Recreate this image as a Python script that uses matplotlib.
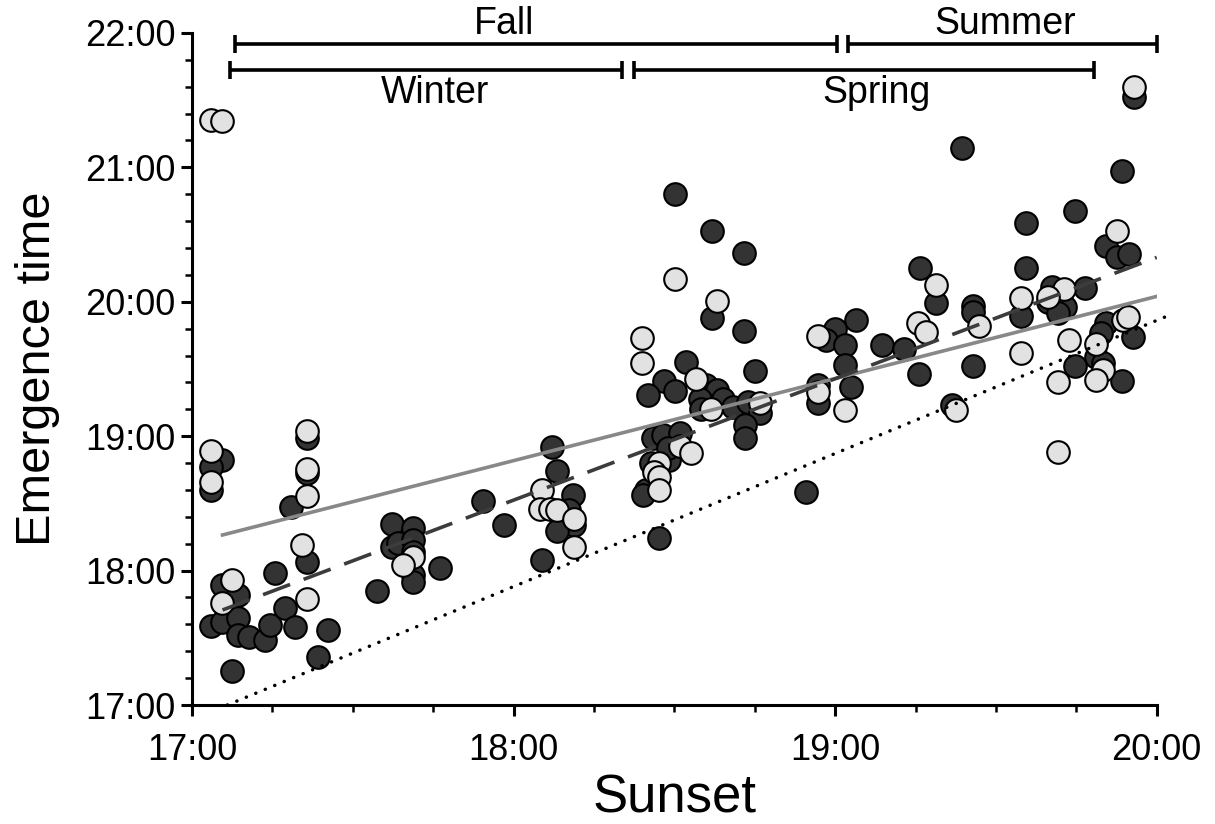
import matplotlib
matplotlib.use('Agg')
import matplotlib.pyplot as plt
from matplotlib.ticker import FuncFormatter, MultipleLocator

plt.rcParams['font.family'] = ['Liberation Sans', 'DejaVu Sans']

# sunset (x) and emergence (y), decimal hours
dark_x = [17.092, 17.059, 17.059,
          17.092, 17.143, 17.059, 17.092, 17.143, 17.143, 17.177, 17.227, 17.242,
          17.123, 17.258, 17.289, 17.320, 17.422, 17.391, 17.308,
          17.357, 17.357, 17.357,
          17.622, 17.622, 17.640, 17.687, 17.687, 17.687, 17.687, 17.687, 17.574, 17.771,
          17.905, 17.970, 18.119, 18.135, 18.184, 18.172, 18.187, 18.135, 18.087,
          18.501, 18.617, 18.717, 18.617, 18.717, 18.536, 18.750, 18.468, 18.501, 18.418,
          18.600, 18.632, 18.579, 18.584, 18.652, 18.681, 18.729, 18.766, 18.719, 18.719,
          18.434, 18.465, 18.517, 18.484, 18.429, 18.413, 18.402, 18.480, 18.453,
          18.910, 19.064, 18.999, 18.971, 19.030, 19.030, 19.147, 19.213, 19.261,
          18.947, 18.947, 19.048, 19.263, 19.313, 19.429, 19.429, 19.429, 19.362, 19.396,
          19.595, 19.595, 19.579, 19.675, 19.662, 19.714, 19.693, 19.776, 19.843, 19.828,
          19.926, 19.812, 19.833, 19.893, 19.745, 19.745, 19.893, 19.843, 19.878, 19.914,
          19.928]
dark_y = [18.823, 18.773, 18.600,
          17.893, 17.818, 17.588, 17.620, 17.647, 17.521, 17.506, 17.484, 17.595,
          17.255, 17.984, 17.724, 17.580, 17.558, 17.359, 18.473,
          18.987, 18.726, 18.064,
          18.347, 18.178, 18.205, 18.317, 18.228, 18.138, 17.967, 17.917, 17.850, 18.022,
          18.520, 18.339, 18.920, 18.741, 18.563, 18.451, 18.339, 18.297, 18.079,
          20.802, 20.528, 20.365, 19.879, 19.783, 19.552, 19.485, 19.413, 19.336, 19.307,
          19.381, 19.344, 19.275, 19.200, 19.280, 19.219, 19.257, 19.170, 19.083, 18.984,
          18.984, 19.009, 19.022, 18.823, 18.798, 18.600, 18.563, 18.912, 18.243,
          18.585, 19.865, 19.795, 19.716, 19.679, 19.530, 19.679, 19.647, 19.461,
          19.381, 19.249, 19.368, 20.254, 19.991, 19.971, 19.926, 19.522, 19.232, 21.142,
          20.584, 20.254, 19.894, 20.112, 20.001, 19.964, 19.914, 20.100, 19.840, 19.766,
          19.740, 19.587, 19.542, 19.413, 19.522, 20.678, 20.975, 20.418, 20.336, 20.353,
          21.526]

light_x = [17.059, 17.092, 17.059, 17.059,
           17.123, 17.092,
           17.357, 17.357, 17.357, 17.341, 17.357,
           17.687, 17.656,
           18.087, 18.082, 18.113, 18.135, 18.187, 18.187,
           18.501, 18.634, 18.401, 18.401, 18.567, 18.615, 18.766,
           18.517, 18.552, 18.453, 18.436, 18.453, 18.453,
           18.947, 19.258, 19.284, 18.947, 19.030, 19.313, 19.447, 19.377,
           19.579, 19.579, 19.711, 19.662, 19.894, 19.911, 19.727, 19.812, 19.833, 19.812,
           19.693, 19.693, 19.878, 19.928]
light_y = [21.356, 21.344, 18.890, 18.657,
           17.930, 17.759,
           19.039, 18.756, 18.557, 18.190, 17.789,
           18.103, 18.042,
           18.600, 18.458, 18.458, 18.451, 18.384, 18.178,
           20.170, 20.006, 19.733, 19.542, 19.423, 19.200, 19.249,
           18.927, 18.873, 18.798, 18.736, 18.699, 18.600,
           19.746, 19.840, 19.778, 19.331, 19.195, 20.125, 19.820, 19.195,
           20.026, 19.617, 20.093, 20.038, 19.865, 19.885, 19.716, 19.686, 19.493, 19.418,
           19.401, 18.885, 20.527, 21.600]

# fitted lines: (x start, x end, intercept at x start, slope)
fit_all = (17.095, 20.0, 18.265, 0.611)
fit_dark = (17.095, 20.0, 17.707, 0.903)
sunset_line = (17.11, 20.03, 17.0, 0.99)

# seasons: name, start, end, row, label x
seasons = [('Fall', 17.134, 19.006, 0, 17.97),
           ('Summer', 19.039, 20.0, 0, 19.53),
           ('Winter', 17.118, 18.337, 1, 17.755),
           ('Spring', 18.374, 19.804, 1, 19.13)]
row_y = [21.918, 21.725]
label_y = [22.07, 21.55]


def hhmm(v, pos=None):
    h = int(round(v * 60)) // 60
    m = int(round(v * 60)) % 60
    return '%d:%02d' % (h, m)


def line_pts(f):
    x0, x1, y0, k = f
    return [x0, x1], [y0, y0 + k * (x1 - x0)]


fig = plt.figure(figsize=(12.15, 8.24), dpi=100)
ax = fig.add_axes([0.158, 0.1444, 0.794, 0.8156])

ax.scatter(dark_x, dark_y, s=265, c='#333333', edgecolors='black', linewidths=1.5, zorder=3)
ax.scatter(light_x, light_y, s=265, c='#e2e2e2', edgecolors='black', linewidths=1.5, zorder=3)

xs, ys = line_pts(fit_all)
ax.plot(xs, ys, color='#888888', lw=2.6, zorder=4)
xs, ys = line_pts(fit_dark)
ax.plot(xs, ys, color='#3c3c3c', lw=2.6, dashes=(8, 4), zorder=4)
xs, ys = line_pts(sunset_line)
ax.plot(xs, ys, color='black', lw=2.5, dashes=(0.05, 2.9), dash_capstyle='round',
        zorder=4, clip_on=False)

# season bars
for name, s0, s1, row, lx in seasons:
    yb = row_y[row]
    ax.plot([s0, s1], [yb, yb], color='black', lw=2.6, clip_on=False, solid_capstyle='butt')
    for xe in (s0, s1):
        ax.plot([xe, xe], [yb - 0.07, yb + 0.07], color='black', lw=2.6, clip_on=False,
                solid_capstyle='butt')
    ax.text(lx, label_y[row], name, ha='center', va='center', fontsize=27, clip_on=False)

ax.set_xlim(17, 20)
ax.set_ylim(17, 22)
ax.xaxis.set_major_locator(MultipleLocator(1))
ax.xaxis.set_minor_locator(MultipleLocator(0.25))
ax.yaxis.set_major_locator(MultipleLocator(1))
ax.yaxis.set_minor_locator(MultipleLocator(0.2))
ax.xaxis.set_major_formatter(FuncFormatter(hhmm))
ax.yaxis.set_major_formatter(FuncFormatter(hhmm))

for side in ('top', 'right'):
    ax.spines[side].set_visible(False)
for side in ('left', 'bottom'):
    ax.spines[side].set_linewidth(2.2)

ax.tick_params(which='major', direction='out', length=8, width=2.2, labelsize=26)
ax.tick_params(axis='x', which='major', pad=12)
ax.tick_params(axis='y', which='major', pad=4)
ax.tick_params(which='minor', direction='out', length=5, width=1.8)

ax.set_xlabel('Sunset', fontsize=38, labelpad=4)
ax.set_ylabel('Emergence time', fontsize=35, labelpad=18)

plt.savefig('out.png', dpi=100)
